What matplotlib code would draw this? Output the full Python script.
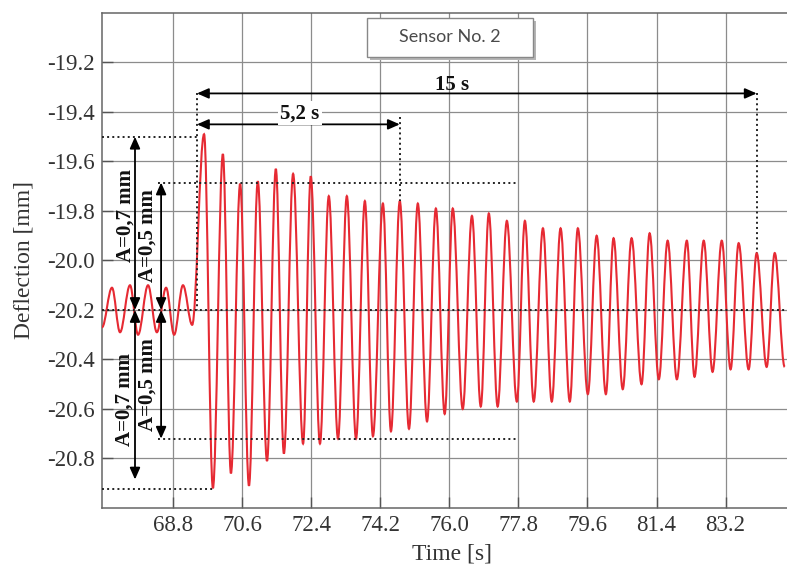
import numpy as np
import matplotlib.pyplot as plt
from matplotlib.path import Path
from matplotlib.patches import PathPatch, Rectangle

plt.rcParams['font.family'] = ['Liberation Serif', 'DejaVu Serif']
plt.rcParams['axes.unicode_minus'] = False

''' data read off the picture (extrema of the signal) '''
# small oscillation before the impulse
pre_t = [66.95, 67.21, 67.42, 67.68, 67.89, 68.15, 68.38, 68.62, 68.83, 69.06, 69.30]
pre_v = [-20.27, -20.11, -20.29, -20.10, -20.30, -20.10, -20.29, -20.11, -20.30, -20.10, -20.26]

peak_t = [69.61, 70.10, 70.55, 71.01, 71.48, 71.93, 72.39, 72.86, 73.33, 73.80, 74.27,
          74.71, 75.18, 75.65, 76.09, 76.59, 77.03, 77.50, 77.97, 78.44, 78.90, 79.35,
          79.84, 80.28, 80.75, 81.22, 81.69, 82.19, 82.63, 83.10, 83.54, 84.01, 84.48]
peak_v = [-19.49, -19.57, -19.69, -19.68, -19.63, -19.65, -19.66, -19.74, -19.74, -19.76, -19.77,
          -19.76, -19.77, -19.79, -19.79, -19.82, -19.81, -19.84, -19.84, -19.87, -19.87, -19.87,
          -19.90, -19.91, -19.91, -19.89, -19.92, -19.92, -19.92, -19.92, -19.93, -19.97, -19.97]

trough_t = [69.84, 70.31, 70.78, 71.25, 71.69, 72.19, 72.63, 73.10, 73.57, 74.01, 74.48,
            74.95, 75.42, 75.88, 76.35, 76.82, 77.26, 77.76, 78.20, 78.67, 79.14, 79.61,
            80.08, 80.52, 81.01, 81.46, 81.93, 82.39, 82.86, 83.33, 83.80, 84.27, 84.74]
trough_v = [-20.92, -20.86, -20.91, -20.81, -20.78, -20.74, -20.74, -20.72, -20.72, -20.71, -20.69,
            -20.68, -20.65, -20.62, -20.60, -20.59, -20.59, -20.57, -20.57, -20.57, -20.57, -20.54,
            -20.54, -20.52, -20.50, -20.48, -20.48, -20.47, -20.45, -20.44, -20.44, -20.43, -20.43]

xticks = [68.8, 70.6, 72.4, 74.2, 76.0, 77.8, 79.6, 81.4, 83.2]
yticks = [-19.2, -19.4, -19.6, -19.8, -20.0, -20.2, -20.4, -20.6, -20.8]

# annotation levels
center = -20.2
a07 = [-19.50, -20.925]
a05 = [-19.685, -20.72]
t_start, t_52, t_15 = 69.425, 74.71, 84.01

fig = plt.figure(figsize=(7.87, 5.72), dpi=100)
ax = fig.add_axes([0.1296, 0.1119, 0.8704, 0.8654])

''' signal: smooth curve through the extrema '''
t = np.concatenate([pre_t, peak_t, trough_t])
v = np.concatenate([pre_v, peak_v, trough_v])
o = np.argsort(t)
t, v = t[o], v[o]
k = 0.36
verts = [(t[0], v[0])]
codes = [Path.MOVETO]
for i in range(1, len(t)):
    h = t[i] - t[i-1]
    verts += [(t[i-1] + k*h, v[i-1]), (t[i] - k*h, v[i]), (t[i], v[i])]
    codes += [Path.CURVE4] * 3
ax.add_patch(PathPatch(Path(verts, codes), fill=False, ec='#e62a33', lw=1.5, zorder=3))

ax.set_xlim(66.95, 84.8)
ax.set_ylim(-21.0, -19.0)
ax.set_xticks(xticks)
ax.set_xticklabels(['%.1f' % x for x in xticks])
ax.set_yticks(yticks)
ax.set_yticklabels(['%.1f' % y for y in yticks])
ax.tick_params(direction='in', length=8, width=1, color='#555', labelsize=16.5,
               labelcolor='#333', pad=5)
ax.grid(True, color='#8c8c8c', lw=0.9, zorder=0)
ax.set_axisbelow(True)
for s in ['left', 'bottom', 'top']:
    ax.spines[s].set_color('#666')
    ax.spines[s].set_linewidth(1.1)
ax.spines['right'].set_visible(False)

ax.set_xlabel('Time [s]', fontsize=17, color='#333')
ax.xaxis.set_label_coords(0.511, -0.072)
ax.set_ylabel('Deflection [mm]', fontsize=17, color='#333')
ax.yaxis.set_label_coords(-0.098, 0.5)

''' dotted guide lines '''
dot = dict(ls=':', color='#222', lw=1.4, zorder=4)
ax.plot([66.95, 84.8], [center, center], **dot)
ax.plot([66.95, t_start], [a07[0], a07[0]], **dot)
ax.plot([66.95, 69.84], [a07[1], a07[1]], **dot)
ax.plot([68.41, 77.8], [a05[0], a05[0]], **dot)
ax.plot([68.41, 77.8], [a05[1], a05[1]], **dot)
ax.plot([t_start, t_start], [-19.325, center], **dot)
ax.plot([t_52, t_52], [-19.42, -19.76], **dot)
ax.plot([t_15, t_15], [-19.325, -19.97], **dot)

''' arrows '''
arr = dict(arrowstyle='<|-|>,head_length=0.5,head_width=0.22', color='k', lw=1.3,
           mutation_scale=14, shrinkA=0, shrinkB=0)
ax.annotate('', xy=(t_15, -19.325), xytext=(t_start, -19.325), arrowprops=arr, zorder=5)
ax.annotate('', xy=(t_52, -19.45), xytext=(t_start, -19.45), arrowprops=arr, zorder=5)
ax.annotate('', xy=(67.81, a07[0]), xytext=(67.81, center), arrowprops=arr, zorder=5)
ax.annotate('', xy=(67.81, a07[1] + 0.04), xytext=(67.81, center), arrowprops=arr, zorder=5)
ax.annotate('', xy=(68.49, a05[0]), xytext=(68.49, center), arrowprops=arr, zorder=5)
ax.annotate('', xy=(68.49, a05[1]), xytext=(68.49, center), arrowprops=arr, zorder=5)

bold = dict(fontsize=15, fontweight='bold', color='#111', ha='center', va='center', zorder=6)
ax.text(76.07, -19.29, '15 s', **bold)
ax.text(72.11, -19.405, '5,2 s', bbox=dict(fc='white', ec='none', pad=1.5), **bold)
ax.text(67.57, -19.82, 'A=0,7 mm', rotation=90, **bold)
ax.text(67.54, -20.56, 'A=0,7 mm', rotation=90, **bold)
ax.text(68.13, -19.90, 'A=0,5 mm', rotation=90, **bold)
ax.text(68.15, -20.50, 'A=0,5 mm', rotation=90, **bold)

''' sensor box '''
ax.add_patch(Rectangle((0.3915, 0.905), 0.242, 0.079, transform=ax.transAxes,
                       fc='#b5b5b5', ec='none', zorder=6, clip_on=False))
ax.add_patch(Rectangle((0.387, 0.911), 0.242, 0.079, transform=ax.transAxes,
                       fc='white', ec='#888', lw=1, zorder=7, clip_on=False))
ax.text(0.508, 0.951, 'Sensor No. 2', transform=ax.transAxes, family='Lato',
        fontsize=13, color='#4a4a4a', ha='center', va='center', zorder=8)

plt.savefig('out.png', dpi=100)
